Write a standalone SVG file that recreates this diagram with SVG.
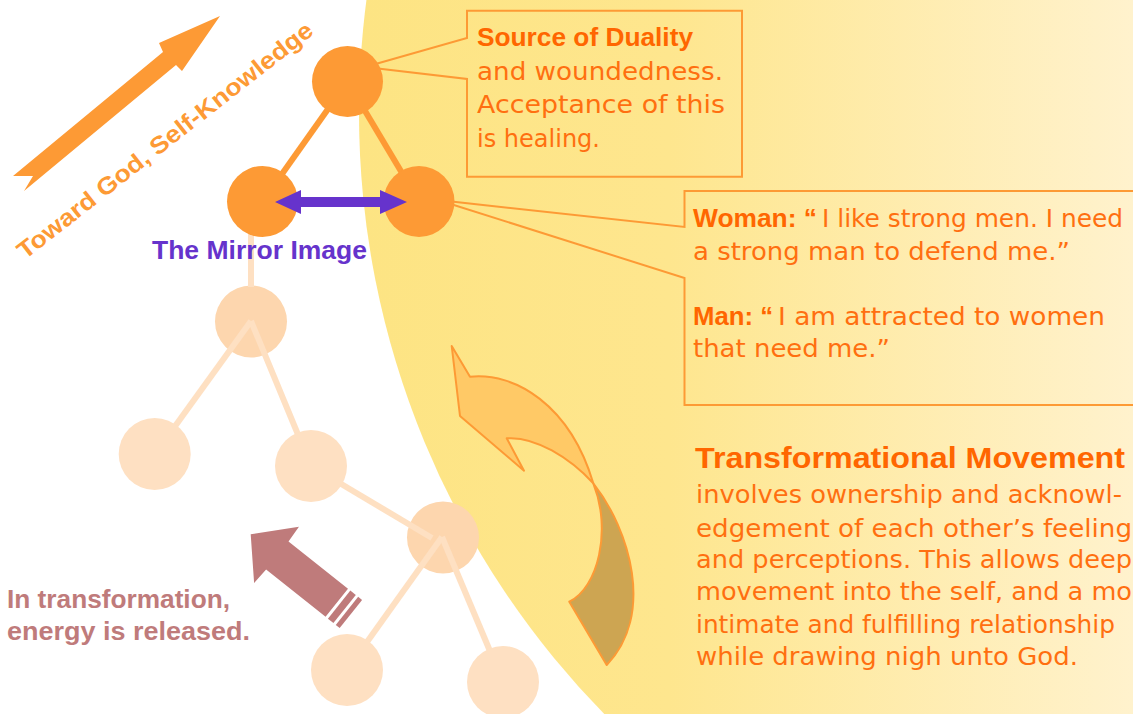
<svg xmlns="http://www.w3.org/2000/svg" width="1133" height="714" viewBox="0 0 1133 714">
<defs>
<linearGradient id="sun" gradientUnits="userSpaceOnUse" x1="360" y1="0" x2="1133" y2="0">
<stop offset="0" stop-color="#FDE483"/>
<stop offset="0.4" stop-color="#FEE68E"/>
<stop offset="1" stop-color="#FFF2CD"/>
</linearGradient>
</defs>
<style>
.t{font-family:'DejaVu Sans','Liberation Sans',sans-serif;}
.tb{font-family:'Liberation Sans','DejaVu Sans',sans-serif;font-weight:bold;}
.box{fill:none;stroke:#FD9A35;stroke-width:2;}
.body{font-size:25px;fill:#FF6F10;}
.b{font-family:'Liberation Sans','DejaVu Sans',sans-serif;font-weight:bold;fill:#FF6600;}
.hub{fill:#FD9A35;}
.edge{stroke:#FD9A35;stroke-width:6;fill:none;}
.pale{stroke:#FEE0C2;stroke-width:6;fill:none;}
.pn{fill:#FEE0C2;}
.pd{fill:#FDD6AE;}
</style>
<rect width="1133" height="714" fill="#FFFFFF"/>
<circle id="sun-field" cx="1218" cy="113" r="859" fill="url(#sun)"/>

<g id="toward-arrow">
<polygon fill="#FD9A35" points="220,16 182,71 176,65 24,191 33,176 13,176 163,52 159,43"/>
<text class="tb" transform="translate(25,260) rotate(-38)" font-size="24" fill="#FD9A35" textLength="368" lengthAdjust="spacingAndGlyphs">Toward God, Self-Knowledge</text>
</g>

<g id="node-a"><circle class="pd" cx="251" cy="321.5" r="36"/></g>
<g id="node-d"><circle class="pd" cx="443" cy="537.5" r="36"/></g>

<g id="connectors">
<line class="pale" x1="251" y1="230" x2="251" y2="287"/>
<line class="pale" x1="251" y1="321" x2="155" y2="454"/>
<line class="pale" x1="251" y1="321" x2="311" y2="466"/>
<line class="pale" x1="311" y1="466" x2="432" y2="538"/>
<line class="pale" x1="442" y1="537" x2="347" y2="670"/>
<line class="pale" x1="442" y1="537" x2="503" y2="682"/>
<line class="edge" x1="347.5" y1="81.5" x2="262.5" y2="201.5"/>
<line class="edge" x1="347.5" y1="81.5" x2="419" y2="201.5"/>
</g>

<g id="node-b"><circle class="pn" cx="154.7" cy="454" r="36"/></g>
<g id="node-c"><circle class="pn" cx="311" cy="466" r="36"/></g>
<g id="node-e"><circle class="pn" cx="347" cy="670" r="36"/></g>
<g id="node-f"><circle class="pn" cx="503" cy="682" r="36"/></g>

<g id="source-callout">
<path class="box" d="M467,38 V10.7 H742 V176.7 H467 V79 L365,67 Z"/>
<text class="b" x="477" y="46" font-size="25" textLength="216" lengthAdjust="spacingAndGlyphs">Source of Duality</text>
<text class="t body" x="477" y="80" textLength="246" lengthAdjust="spacingAndGlyphs">and woundedness.</text>
<text class="t body" x="477" y="113" textLength="248" lengthAdjust="spacingAndGlyphs">Acceptance of this</text>
<text class="t body" x="477" y="147" textLength="123" lengthAdjust="spacingAndGlyphs">is healing.</text>
</g>

<g id="dialogue-callout">
<path class="box" d="M684.5,227 V191 H1150 V405 H684.5 V278 L438,200 Z"/>
<text class="b" x="693" y="227" font-size="25" textLength="124" lengthAdjust="spacingAndGlyphs">Woman: “</text>
<text class="t body" x="822" y="227" textLength="301" lengthAdjust="spacingAndGlyphs">I like strong men. I need</text>
<text class="t body" x="693" y="260" textLength="377" lengthAdjust="spacingAndGlyphs">a strong man to defend me.”</text>
<text class="b" x="693" y="325" font-size="25" textLength="80" lengthAdjust="spacingAndGlyphs">Man: “</text>
<text class="t body" x="778" y="325" textLength="327" lengthAdjust="spacingAndGlyphs">I am attracted to women</text>
<text class="t body" x="693" y="357" textLength="197" lengthAdjust="spacingAndGlyphs">that need me.”</text>
</g>

<g id="node-top"><circle class="hub" cx="347.5" cy="81.5" r="35.5"/></g>
<g id="node-left"><circle class="hub" cx="262.5" cy="201.5" r="35.5"/></g>
<g id="node-right"><circle class="hub" cx="419" cy="201.5" r="35.5"/></g>

<g id="mirror-arrow">
<polygon fill="#6633CC" points="275,202 301,190 301,197 380,197 380,190 407,202 380,214 380,207 301,207 301,214"/>
<text class="tb" x="152" y="259" font-size="25" fill="#6633CC" textLength="215" lengthAdjust="spacingAndGlyphs">The Mirror Image</text>
</g>

<g id="turn-arrow" stroke="#FD9A35" stroke-width="2" stroke-linejoin="round">
<path fill="#CDA552" d="M593.3,483.3 C630,530 655,615 606.7,665 L569.3,601.7 C598,588 612,530 593.3,483.3 Z"/>
<path fill="#FFC966" d="M451.7,346 L470,376.7 C515,372 570,405 593.3,483.3 C570,458 535,436 506.7,438.3 L524,470.7 L460,416 Z"/>
</g>

<g id="transformation-text">
<text class="b" x="695" y="468" font-size="30" textLength="430" lengthAdjust="spacingAndGlyphs">Transformational Movement</text>
<text class="t body" x="696" y="503" textLength="426" lengthAdjust="spacingAndGlyphs">involves ownership and acknowl-</text>
<text class="t body" x="696" y="537" textLength="436" lengthAdjust="spacingAndGlyphs">edgement of each other’s feeling</text>
<text class="t body" x="696" y="568" textLength="436" lengthAdjust="spacingAndGlyphs">and perceptions. This allows deep</text>
<text class="t body" x="696" y="600" textLength="436" lengthAdjust="spacingAndGlyphs">movement into the self, and a mo</text>
<text class="t body" x="696" y="633" textLength="419" lengthAdjust="spacingAndGlyphs">intimate and fulfilling relationship</text>
<text class="t body" x="696" y="665" textLength="382" lengthAdjust="spacingAndGlyphs">while drawing nigh unto God.</text>
</g>

<g id="energy-arrow" fill="#BF7B7B">
<g transform="translate(250.7,534.3) rotate(38.5)">
<polygon points="0,0 33,-36 34,-18 110,-18 110,18 34,18 33,36"/>
<rect x="113" y="-18" width="7" height="36"/>
<rect x="123" y="-18" width="5" height="36"/>
</g>
<text class="tb" x="7" y="608" font-size="25" textLength="223" lengthAdjust="spacingAndGlyphs">In transformation,</text>
<text class="tb" x="7" y="640" font-size="25" textLength="243" lengthAdjust="spacingAndGlyphs">energy is released.</text>
</g>
</svg>
